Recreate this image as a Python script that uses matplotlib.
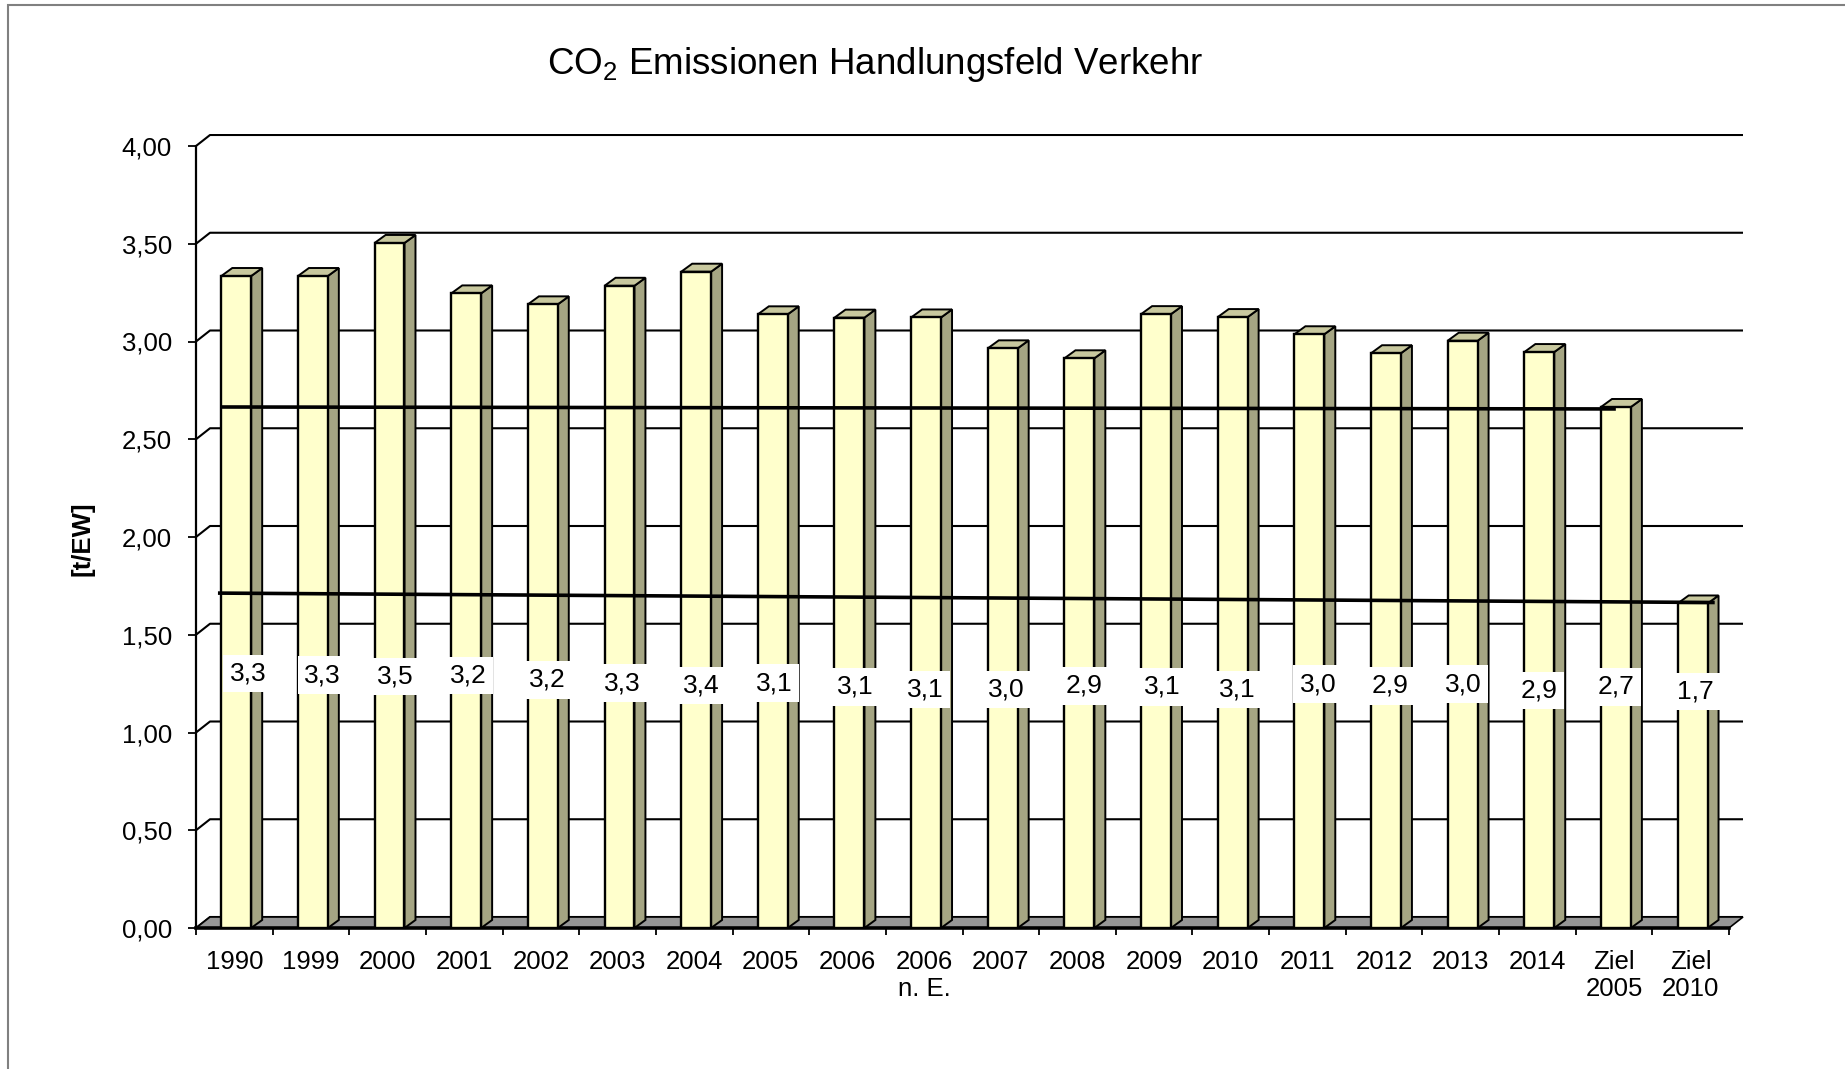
import numpy as np
import matplotlib.pyplot as plt
from matplotlib.patches import Polygon, Rectangle

plt.rcParams['font.family'] = ['Liberation Sans', 'DejaVu Sans']
plt.rcParams['mathtext.fontset'] = 'custom'
plt.rcParams['mathtext.rm'] = 'Liberation Sans'

# Daten
kategorien = ['1990', '1999', '2000', '2001', '2002', '2003', '2004', '2005',
              '2006', '2006\nn. E.', '2007', '2008', '2009', '2010', '2011',
              '2012', '2013', '2014', 'Ziel\n2005', 'Ziel\n2010']
werte = [3.335, 3.335, 3.504, 3.246, 3.19, 3.285, 3.357, 3.139, 3.122, 3.123,
         2.965, 2.914, 3.14, 3.125, 3.037, 2.94, 3.004, 2.946, 2.665, 1.66]
ziel_2005 = [2.665, 2.655]
ziel_2010 = [1.713, 1.665]
yticks = np.arange(0, 4.01, 0.5)

# Lage der Beschriftungen (im Original von Hand verschoben)
label_y = [1.30, 1.294, 1.285, 1.29, 1.269, 1.253, 1.239, 1.253, 1.233, 1.222,
           1.222, 1.238, 1.233, 1.222, 1.248, 1.238, 1.248, 1.214, 1.233, 1.209]
label_dx = [0.68, 0.65, 0.6, 0.55, 0.58, 0.56, 0.59, 0.54, 0.6, 0.51,
            0.57, 0.58, 0.61, 0.59, 0.64, 0.58, 0.53, 0.52, 0.53, 0.56]

W, H = 1845, 1069
px_x = 76.65
px_y = 195.5

fig = plt.figure(figsize=(W / 100, H / 100), dpi=100)
ax = fig.add_axes([196 / W, 1 - 928 / H, 1548 / W, 794 / H])
ax.set_xlim(0, 1548 / px_x)
ax.set_ylim(0, 794 / px_y)

n = len(kategorien)

# Tiefe der Rueckwand und der Saeulen
wx, wy = 14 / px_x, 11 / px_y
bx, by = 11 / px_x, 8 / px_y

# Gitterlinien auf der Rueckwand
for v in yticks:
    ax.plot([0, wx, n + wx], [v, v + wy, v + wy], color='black', lw=1.5,
            zorder=1, solid_capstyle='butt')

# Boden
ax.add_patch(Polygon([(0, 0), (n, 0), (n + wx, wy), (wx, wy)],
                     closed=True, fc='#969696', ec='black', lw=1.2, zorder=1.5))

# Saeulen
w = 0.39
for i, v in enumerate(werte):
    x0 = i + 0.33
    ax.add_patch(Polygon([(x0 + w, 0), (x0 + w + bx, by), (x0 + w + bx, v + by), (x0 + w, v)],
                         closed=True, fc='#A5A583', ec='black', lw=1.4, zorder=3))
    ax.add_patch(Polygon([(x0, v), (x0 + w, v), (x0 + w + bx, v + by), (x0 + bx, v + by)],
                         closed=True, fc='#C8C89E', ec='black', lw=1.4, zorder=3))
    ax.add_patch(Rectangle((x0, 0), w, v, fc='#FFFFCC', ec='black', lw=1.7, zorder=3.1))

# Ziellinien
ax.plot([0.36, kategorien.index('Ziel\n2005') + 0.5], ziel_2005, color='black',
        lw=2.6, zorder=5)
ax.plot([0.31, kategorien.index('Ziel\n2010') + 0.79], ziel_2010, color='black',
        lw=2.6, zorder=5)

# Werte
for i, v in enumerate(werte):
    ax.text(i + label_dx[i], label_y[i], f'{v:.1f}'.replace('.', ','),
            ha='center', va='center', fontsize=19, zorder=6,
            bbox=dict(boxstyle='square,pad=0.25', fc='white', ec='none'))

# Achsen
for s in ['top', 'right']:
    ax.spines[s].set_visible(False)
ax.spines['left'].set_bounds(0, 4)
ax.spines['left'].set_linewidth(1.6)
ax.spines['bottom'].set_bounds(0, n)
ax.spines['bottom'].set_linewidth(2.6)

ax.set_yticks(yticks)
ax.set_yticklabels([f'{v:.2f}'.replace('.', ',') for v in yticks])
ax.tick_params(axis='y', direction='out', length=5.8, width=1.3, pad=11.5,
               labelsize=18.5)

ax.set_xticks(np.arange(n + 1))
ax.set_xticklabels([])
ax.set_xticks(np.arange(n) + 0.5, minor=True)
ax.set_xticklabels(kategorien, minor=True, fontsize=18.5)
ax.tick_params(axis='x', which='major', direction='out', length=5, width=1.3)
ax.tick_params(axis='x', which='minor', length=0, pad=15.5)

fig.text(875 / W, 1 - 64 / H, r'CO$_\mathrm{2}$ Emissionen Handlungsfeld Verkehr',
         ha='center', va='center', fontsize=26.5)
fig.text(83 / W, 1 - 539 / H, '[t/EW]', rotation=90, fontsize=18.5,
         fontweight='bold', ha='center', va='center')

# Rahmen
fig.add_artist(Rectangle((8 / W, -0.1), 1.2, 1.1 - 5 / H, transform=fig.transFigure,
                         fill=False, ec='#808080', lw=1.5))

fig.savefig('out.png', dpi=100)
